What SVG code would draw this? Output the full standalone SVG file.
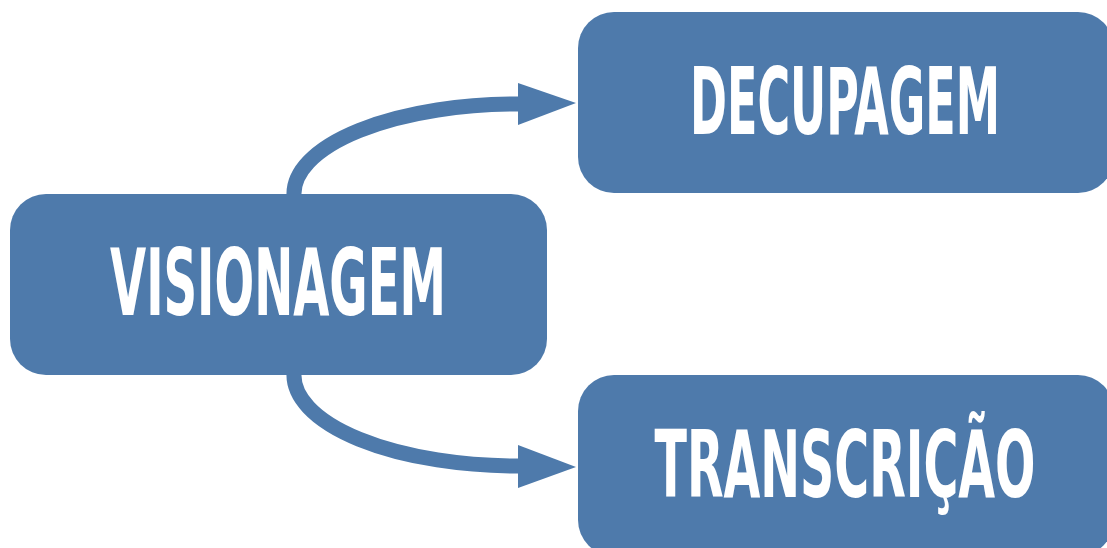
<svg xmlns="http://www.w3.org/2000/svg" width="1107" height="548" viewBox="0 0 1107 548">
  <style>
    .box { fill: #4E7AAB; }
    .lbl { fill: #FFFFFF; font-family: "DejaVu Sans Condensed", "Liberation Sans Narrow", "Liberation Sans", sans-serif; font-weight: bold; font-size: 52px; text-anchor: middle; }
    .conn { fill: none; stroke: #4E7AAB; stroke-width: 15; }
    .head { fill: #4E7AAB; }
  </style>
  <rect width="1107" height="548" fill="#FFFFFF"/>
  <g id="connectors">
    <path class="conn" d="M294,196 A224,90 0 0 1 522,104"/>
    <polygon class="head" points="518,83 576,103 518,125"/>
    <path class="conn" d="M294,373 A224,91 0 0 0 522,466"/>
    <polygon class="head" points="518,445 576,467 518,488"/>
  </g>
  <g id="node-visionagem">
    <rect class="box" x="10" y="194" width="537" height="181" rx="36" ry="36"/>
    <text class="lbl" transform="translate(278,315) scale(1,1.78)" x="0" y="0" textLength="336" lengthAdjust="spacingAndGlyphs">VISIONAGEM</text>
  </g>
  <g id="node-decupagem">
    <rect class="box" x="578" y="12" width="536" height="181" rx="36" ry="36"/>
    <text class="lbl" transform="translate(845,134) scale(1,1.79)" x="0" y="0" textLength="310" lengthAdjust="spacingAndGlyphs">DECUPAGEM</text>
  </g>
  <g id="node-transcricao">
    <rect class="box" x="578" y="375" width="536" height="181" rx="36" ry="36"/>
    <text class="lbl" transform="translate(845,497) scale(1,1.79)" x="0" y="0" textLength="381" lengthAdjust="spacingAndGlyphs">TRANSCRIÇÃO</text>
  </g>
</svg>
